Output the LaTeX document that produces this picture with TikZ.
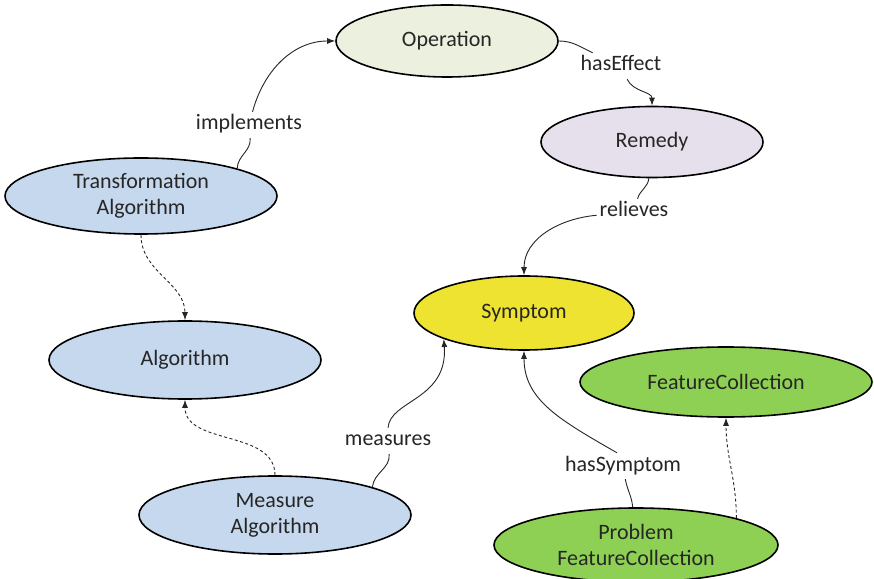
\documentclass[tikz,border=0pt]{standalone}
\usepackage{fontspec}
\setmainfont{Carlito}
\usetikzlibrary{shapes.geometric,arrows.meta}
\definecolor{opfill}{HTML}{EBF1DE}
\definecolor{remfill}{HTML}{E5E0EC}
\definecolor{algfill}{HTML}{C6D8EE}
\definecolor{symfill}{HTML}{EEE330}
\definecolor{fcfill}{HTML}{8ED053}
\definecolor{txt}{HTML}{262626}
\begin{document}
\begin{tikzpicture}[x=1pt,y=1pt,
  concept/.style={ellipse,draw=black,line width=1.6pt,inner sep=0pt,align=center,
    font=\fontsize{22}{26}\selectfont,text=txt},
  rel/.style={inner sep=3pt,font=\fontsize{22}{26}\selectfont,text=txt,
    text height=15pt,text depth=5pt},
  link/.style={line width=0.9pt,draw=black!85},
  tip/.style={-{Latex[length=8pt,width=6pt]}},
  isa/.style={link,dash pattern=on 3pt off 2.5pt}]
\fill[white] (0,0) rectangle (874,578);
\useasboundingbox (0,0) rectangle (874,578);

\node[concept,fill=opfill,minimum width=222pt,minimum height=72pt] (O) at (447,537) {Operation};
\node[concept,fill=remfill,minimum width=222pt,minimum height=71pt] (R) at (652,436) {Remedy};
\node[concept,fill=algfill,minimum width=272pt,minimum height=76pt] (T) at (141,382) {Transformation\\Algorithm};
\node[concept,fill=algfill,minimum width=272pt,minimum height=78pt] (A) at (185,218) {Algorithm};
\node[concept,fill=algfill,minimum width=272pt,minimum height=78pt] (MA) at (275,63) {Measure\\Algorithm};
\node[concept,fill=symfill,minimum width=220pt,minimum height=74pt] (S) at (524,265) {Symptom};
\node[concept,fill=fcfill,minimum width=292pt,minimum height=70pt] (FC) at (726,196) {FeatureCollection};
\node[concept,fill=fcfill,minimum width=284pt,minimum height=74pt] (PF) at (636,33) {Problem\\FeatureCollection};

\node[rel] (impl) at (249,453) {implements};
\node[rel] (he) at (621,512) {hasEffect};
\node[rel] (rl) at (634,366) {relieves};
\node[rel] (ms) at (388,137) {measures};
\node[rel] (hs) at (623,112) {hasSymptom};

\draw[link] (T.16) to[out=88,in=-85] (impl);
\draw[link,tip] (impl) to[out=75,in=180] (O);
\draw[link] (O) to[out=0,in=155] (he);
\draw[link,tip] (he) to[out=-65,in=90] (R);
\draw[link] (R) to[out=-95,in=75] (rl);
\draw[link,tip] (rl) to[out=185,in=90] (S);
\draw[link] (MA.16) to[out=85,in=-85] (ms);
\draw[link,tip] (ms.north) .. controls (390,178) and (448,178) .. (S.198);
\draw[link] (PF) to[out=95,in=-80] (hs);
\draw[link,tip] ([xshift=-6pt]hs.north) .. controls (560,158) and (524,178) .. (S.south);

\draw[isa,tip] (T) to[out=-90,in=90] (A);
\draw[isa,tip] (MA) to[out=90,in=-90] (A);
\draw[isa,tip] (PF.15) to[out=90,in=-90] (FC);
\end{tikzpicture}
\end{document}
